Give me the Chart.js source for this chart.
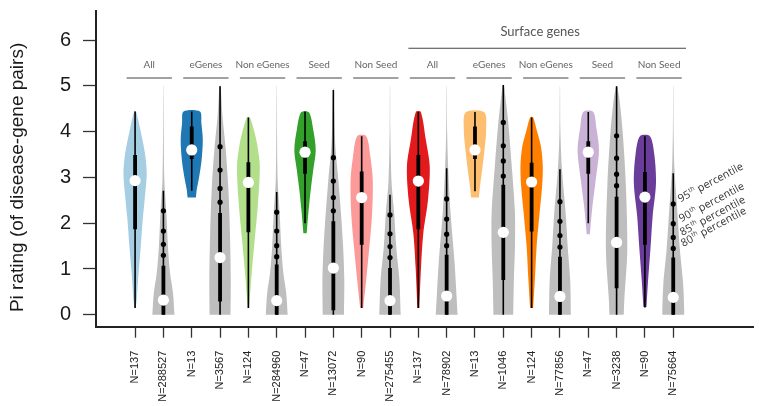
<!DOCTYPE html>
<html>
<head>
<meta charset="utf-8">
<script src="https://cdn.jsdelivr.net/npm/chart.js@4.4.1/dist/chart.umd.min.js"></script>
<style>
  html, body { margin: 0; padding: 0; background: #fff; }
  #wrap { width: 759px; height: 406px; }
</style>
</head>
<body>
<div id="wrap"><canvas id="violinChart"></canvas></div>
<script>
// x tick labels, one per violin
const nLabels = ['N=137', 'N=288527', 'N=13', 'N=3567', 'N=124', 'N=284960', 'N=47', 'N=13072', 'N=90', 'N=275455',
                 'N=137', 'N=78902', 'N=13', 'N=1046', 'N=124', 'N=77856', 'N=47', 'N=3238', 'N=90', 'N=75664'];
const groupNames = ['All', 'eGenes', 'Non eGenes', 'Seed', 'Non Seed', 'All', 'eGenes', 'Non eGenes', 'Seed', 'Non Seed'];
const supergroupName = 'Surface genes';
const yTicks = [0, 1, 2, 3, 4, 5, 6];
const percentileNames = ['95', '90', '85', '80'];

const violinColors = ['#a6cee3', '#bebebe', '#1f78b4', '#bebebe', '#b2df8a', '#bebebe', '#33a02c', '#bebebe', '#fb9a99', '#bebebe',
                      '#e31a1c', '#bebebe', '#fdbf6f', '#bebebe', '#ff7f00', '#bebebe', '#cab2d6', '#bebebe', '#6a3d9a', '#bebebe'];

// summary stats per violin
const whiskerLow  = [0.15, 0, 2.71, 0, 0.15, 0, 2.0, 0, 0.15, 0, 0.15, 0, 2.7, 0, 0.15, 0, 2.0, 0, 0.16, 0];
const whiskerHigh = [4.44, 2.71, 4.44, 4.99, 4.31, 2.68, 4.44, 4.91, 3.9, 2.62, 4.43, 3.2, 4.43, 5.02, 4.31, 3.18, 4.43, 4.99, 3.9, 3.09];
const q1s = [1.87, 0, 3.4, 0.29, 1.8, 0, 3.08, 0.1, 1.53, 0, 1.87, 0, 3.4, 0.76, 1.82, 0, 3.08, 0.58, 1.53, 0];
const q3s = [3.49, 1.07, 4.11, 2.22, 3.33, 1.1, 3.79, 2.04, 3.13, 1.02, 3.49, 1.31, 4.11, 2.84, 3.32, 1.27, 3.79, 2.58, 3.12, 1.25];
const medians = [2.93, 0.32, 3.6, 1.25, 2.89, 0.31, 3.55, 1.02, 2.56, 0.31, 2.92, 0.41, 3.6, 1.8, 2.9, 0.4, 3.55, 1.58, 2.57, 0.38];

// percentile dots (only on the grey background violins)
const pct95 = [null, 2.27, null, 3.67, null, 2.24, null, 3.43, null, 2.18, null, 2.53, null, 4.2, null, 2.47, null, 3.91, null, 2.42];
const pct90 = [null, 1.83, null, 3.16, null, 1.83, null, 2.92, null, 1.77, null, 2.09, null, 3.69, null, 2.04, null, 3.42, null, 1.99];
const pct85 = [null, 1.54, null, 2.76, null, 1.51, null, 2.56, null, 1.49, null, 1.76, null, 3.36, null, 1.73, null, 3.07, null, 1.69];
const pct80 = [null, 1.3, null, 2.46, null, 1.27, null, 2.27, null, 1.25, null, 1.51, null, 3.03, null, 1.48, null, 2.82, null, 1.45];

// density profile per violin: rating levels and relative width (1 = widest)
const densityLevels = [
  [0.15, 0.33, 0.91, 1.49, 2.07, 2.58, 3.09, 3.53, 4.04, 4.44],
  [0, 0.47, 0.91, 1.49, 2.22, 2.95, 4.0, 5.0],
  [2.56, 2.73, 3.02, 3.38, 3.82, 4.18, 4.44],
  [0, 0.8, 1.8, 2.8, 3.6, 4.33, 5.0],
  [0.15, 0.91, 1.64, 2.37, 3.24, 3.7, 3.97, 4.31],
  [0, 0.47, 0.91, 1.49, 2.22, 2.95, 4.0, 5.0],
  [1.78, 2.22, 2.73, 3.16, 3.6, 4.04, 4.42],
  [0, 0.76, 1.49, 2.22, 2.95, 3.67, 4.4, 4.95],
  [0.15, 0.76, 1.49, 2.22, 2.95, 3.45, 3.9],
  [0, 0.76, 1.49, 2.22, 2.9, 4.0, 5.0],
  [0.15, 1.05, 1.78, 2.5, 3.24, 3.82, 4.43],
  [0, 0.41, 1.13, 2.22, 3.2, 4.0, 5.0],
  [2.56, 2.8, 3.24, 3.67, 4.04, 4.42],
  [0, 0.76, 1.49, 2.22, 3.32, 4.19, 4.77, 5.02],
  [0.15, 0.76, 1.49, 2.22, 2.8, 3.24, 3.67, 4.04, 4.31],
  [0, 0.76, 1.49, 2.22, 3.18, 4.0, 5.0],
  [1.76, 2.37, 2.95, 3.6, 4.1, 4.43],
  [0, 0.33, 1.42, 2.87, 3.96, 4.69, 4.99],
  [0.17, 0.69, 1.42, 2.15, 2.87, 3.5, 3.9],
  [0, 0.11, 0.69, 1.42, 2.51, 3.2, 4.0, 5.0]
];
const densityWidths = [
  [0.04, 0.14, 0.29, 0.48, 0.64, 0.83, 0.98, 0.83, 0.44, 0.08],
  [0.93, 0.81, 0.56, 0.38, 0.25, 0.08, 0.03, 0.01],
  [0.35, 0.42, 0.63, 0.83, 0.93, 0.81, 0.69],
  [0.88, 0.9, 0.83, 0.69, 0.48, 0.21, 0.04],
  [0.06, 0.28, 0.53, 0.79, 0.96, 0.75, 0.53, 0.13],
  [0.92, 0.8, 0.56, 0.38, 0.25, 0.08, 0.03, 0.01],
  [0.14, 0.28, 0.48, 0.69, 0.9, 0.69, 0.33],
  [0.89, 0.92, 0.82, 0.64, 0.42, 0.17, 0.07, 0.02],
  [0.13, 0.38, 0.65, 0.88, 0.93, 0.73, 0.38],
  [0.9, 0.79, 0.52, 0.35, 0.13, 0.03, 0.01],
  [0.08, 0.23, 0.42, 0.81, 0.96, 0.63, 0.21],
  [0.92, 0.83, 0.67, 0.33, 0.13, 0.04, 0.01],
  [0.33, 0.42, 0.64, 0.83, 0.94, 0.78],
  [0.83, 0.89, 0.98, 0.98, 0.69, 0.42, 0.17, 0.04],
  [0.13, 0.27, 0.42, 0.67, 0.88, 0.94, 0.79, 0.42, 0.13],
  [0.92, 0.86, 0.65, 0.48, 0.17, 0.04, 0.01],
  [0.13, 0.35, 0.63, 0.9, 0.67, 0.42],
  [0.6, 0.65, 0.9, 0.77, 0.52, 0.25, 0.04],
  [0.13, 0.25, 0.46, 0.65, 0.93, 0.79, 0.42],
  [0.92, 0.92, 0.83, 0.56, 0.28, 0.1, 0.03, 0.01]
];

const HALF_WIDTH = 0.42; // widest half-violin, in category units
const axisFont = 'Liberation Sans';
const noteFont = 'Lato';
const pctFont = '"Open Sans"';

// build violin outlines: up the left side, down the right side
var datasets = nLabels.map(function (lbl, i) {
  var left = densityLevels[i].map(function (v, k) { return {x: i - densityWidths[i][k] * HALF_WIDTH, y: v}; });
  var right = densityLevels[i].map(function (v, k) { return {x: i + densityWidths[i][k] * HALF_WIDTH, y: v}; }).reverse();
  return {
    data: left.concat(right),
    showLine: true,
    fill: 'shape',
    backgroundColor: violinColors[i],
    borderWidth: 0,
    borderColor: 'transparent',
    pointRadius: 0,
    tension: 0.3,
    order: 5
  };
});

// segments separated by null points
function segments(lo, hi) {
  var pts = [];
  lo.forEach(function (v, i) {
    pts.push({x: i, y: v}, {x: i, y: hi[i]}, {x: i, y: null});
  });
  return pts;
}

datasets.push({
  data: segments(whiskerLow, whiskerHigh),
  showLine: true, borderColor: '#000', borderWidth: 1.6, borderCapStyle: 'butt',
  pointRadius: 0, spanGaps: false, order: 4
});
datasets.push({
  data: segments(q1s, q3s),
  showLine: true, borderColor: '#000', borderWidth: 3.8, borderCapStyle: 'butt',
  pointRadius: 0, spanGaps: false, order: 3
});

var pctPoints = [];
[pct95, pct90, pct85, pct80].forEach(function (arr) {
  arr.forEach(function (v, i) { if (v !== null) pctPoints.push({x: i, y: v}); });
});
datasets.push({
  data: pctPoints,
  pointRadius: 2.6, pointBackgroundColor: '#000', pointBorderWidth: 0, order: 2
});
datasets.push({
  data: medians.map(function (v, i) { return {x: i, y: v}; }),
  pointRadius: 5.6, pointBackgroundColor: '#fff', pointBorderWidth: 0, order: 1
});

// headers, percentile notes and the y title
const annotations = {
  id: 'annotations',
  afterDatasetsDraw: function (chart) {
    var ctx = chart.ctx, x = chart.scales.x, y = chart.scales.y;
    ctx.save();

    // group headers with rule underneath
    ctx.fillStyle = '#666';
    ctx.strokeStyle = '#444';
    ctx.lineWidth = 1.2;
    ctx.font = '10px ' + noteFont;
    ctx.textAlign = 'center';
    ctx.textBaseline = 'middle';
    groupNames.forEach(function (name, k) {
      var c = 2 * k + 0.5;
      ctx.fillText(name, x.getPixelForValue(c), y.getPixelForValue(5.45));
      ctx.beginPath();
      ctx.moveTo(x.getPixelForValue(c - 0.8), y.getPixelForValue(5.17));
      ctx.lineTo(x.getPixelForValue(c + 0.8), y.getPixelForValue(5.17));
      ctx.stroke();
    });

    ctx.font = '13px ' + noteFont;
    ctx.fillStyle = '#555';
    ctx.fillText(supergroupName, x.getPixelForValue(14.3), y.getPixelForValue(6.18));
    ctx.beginPath();
    ctx.moveTo(x.getPixelForValue(9.65), y.getPixelForValue(5.82));
    ctx.lineTo(x.getPixelForValue(19.45), y.getPixelForValue(5.82));
    ctx.stroke();

    // percentile notes next to the last violin, one per dot
    var last = nLabels.length - 1;
    var marks = [pct95[last], pct90[last], pct85[last], pct80[last]];
    ctx.fillStyle = '#333';
    ctx.textAlign = 'left';
    ctx.textBaseline = 'alphabetic';
    percentileNames.forEach(function (p, k) {
      ctx.save();
      ctx.translate(x.getPixelForValue(last + 0.25 + 0.035 * k), y.getPixelForValue(marks[k]) - 1.5);
      ctx.rotate(-28 * Math.PI / 180);
      ctx.font = '10.8px ' + pctFont;
      ctx.fillText(p, 0, 0);
      var w = ctx.measureText(p).width + 0.4;
      ctx.font = '6.5px ' + pctFont;
      ctx.fillText('th', w, -4.3);
      w += ctx.measureText('th').width;
      ctx.font = '10.8px ' + pctFont;
      ctx.fillText(' percentile', w, 0);
      ctx.restore();
    });

    // y axis title
    ctx.save();
    ctx.translate(18, y.getPixelForValue(3));
    ctx.rotate(-Math.PI / 2);
    ctx.font = '19px ' + axisFont;
    ctx.fillStyle = '#1a1a1a';
    ctx.textAlign = 'center';
    ctx.textBaseline = 'middle';
    ctx.fillText('Pi rating (of disease-gene pairs)', 0, 0);
    ctx.restore();

    ctx.restore();
  }
};

var ctx = document.getElementById('violinChart').getContext('2d');
const chart = new Chart(ctx, {
  type: 'scatter',
  data: { datasets: datasets },
  options: {
    responsive: true,
    maintainAspectRatio: false,
    animation: false,
    events: [],
    layout: { padding: { top: 10.7, right: 0, bottom: 0, left: 0 } },
    plugins: { legend: { display: false }, tooltip: { enabled: false } },
    scales: {
      x: {
        type: 'linear',
        min: -1.38,
        max: 21.83,
        afterBuildTicks: function (s) { s.ticks = nLabels.map(function (_, i) { return {value: i}; }); },
        afterFit: function (s) { s.height = 79.3; s.paddingLeft = 0; s.paddingRight = 0; },
        ticks: {
          callback: function (v) { return nLabels[v]; },
          autoSkip: false, maxRotation: 90, minRotation: 90,
          font: { family: axisFont, size: 11 }, color: '#222', padding: 13
        },
        grid: { drawOnChartArea: false, tickLength: 11, tickColor: '#333', tickWidth: 1.3 },
        border: { display: true, color: '#222', width: 2 }
      },
      y: {
        min: -0.26,
        max: 6.64,
        afterBuildTicks: function (s) { s.ticks = yTicks.map(function (v) { return {value: v}; }); },
        afterFit: function (s) { s.width = 96; s.paddingTop = 0; s.paddingBottom = 0; },
        ticks: { font: { family: axisFont, size: 20 }, color: '#1a1a1a', padding: 12 },
        grid: { drawOnChartArea: false, tickLength: 13, tickColor: '#333', tickWidth: 1.3 },
        border: { display: true, color: '#222', width: 2 }
      }
    }
  },
  plugins: [annotations]
});
</script>
</body>
</html>
